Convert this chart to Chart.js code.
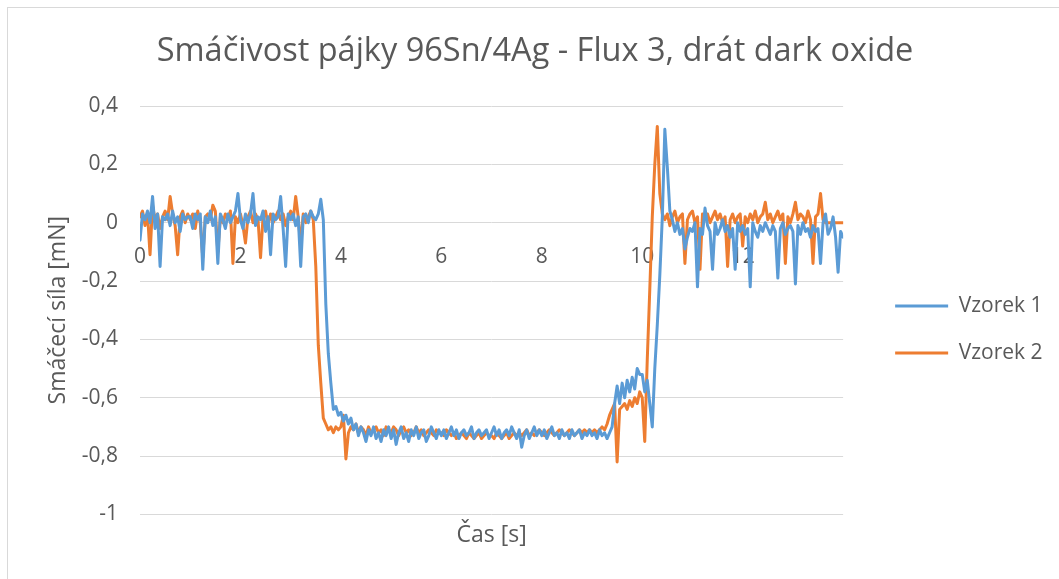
<!DOCTYPE html>
<html>
<head>
<meta charset="utf-8">
<script src="https://cdn.jsdelivr.net/npm/chart.js@4/dist/chart.umd.min.js"></script>
<style>
    body { margin: 0; background: #fff; overflow: hidden; }
    #frame { position: absolute; left: 7px; top: 7px; width: 1200px; height: 700px; border: 1px solid #d9d9d9; }
    #wetting { position: absolute; left: 0; top: 0; }
</style>
</head>
<body>
<div id="frame"></div>
<canvas id="wetting" width="1059" height="579"></canvas>
<script>
const chartTitle = 'Smáčivost pájky 96Sn/4Ag - Flux 3, drát dark oxide';
const xTitle = 'Čas [s]';
const yTitle = 'Smáčecí síla [mN]';
const seriesNames = ['Vzorek 1', 'Vzorek 2'];

// one sample every 0.05 s, from 0 s to 14 s (one row = one second)
const timeStep = 0.05;

const vzorek1 = [
    -0.06, 0.03, 0.01, 0.04, 0.00, 0.09, -0.02, 0.03, -0.15, 0.02, 0.01, 0.03, -0.01, 0.04, 0.00, 0.02, -0.03, 0.03, 0.01, 0.02,
    0.02, -0.02, 0.03, 0.01, 0.03, -0.16, 0.02, 0.00, 0.04, -0.01, 0.02, -0.14, 0.03, 0.01, -0.02, 0.03, 0.00, 0.02, 0.04, 0.10,
    0.01, -0.02, 0.03, 0.00, 0.03, 0.10, -0.01, 0.02, 0.01, 0.04, -0.03, 0.02, -0.11, 0.03, 0.01, 0.02, 0.09, -0.02, -0.15, 0.03,
    0.01, 0.03, -0.01, 0.02, -0.15, 0.02, 0.03, 0.00, 0.04, 0.02, 0.01, 0.03, 0.08, 0.01, -0.28, -0.45, -0.55, -0.64, -0.63, -0.66,
    -0.65, -0.68, -0.66, -0.69, -0.67, -0.71, -0.69, -0.73, -0.70, -0.72, -0.75, -0.71, -0.73, -0.70, -0.74, -0.72, -0.75, -0.71, -0.73, -0.70,
    -0.74, -0.71, -0.76, -0.72, -0.70, -0.74, -0.72, -0.75, -0.71, -0.73, -0.70, -0.74, -0.72, -0.71, -0.75, -0.73, -0.70, -0.72, -0.74, -0.71,
    -0.73, -0.71, -0.74, -0.72, -0.70, -0.73, -0.71, -0.74, -0.72, -0.71, -0.73, -0.72, -0.70, -0.74, -0.72, -0.71, -0.73, -0.72, -0.71, -0.74,
    -0.72, -0.70, -0.73, -0.71, -0.74, -0.72, -0.71, -0.73, -0.70, -0.72, -0.74, -0.71, -0.77, -0.73, -0.71, -0.74, -0.72, -0.70, -0.73, -0.71,
    -0.73, -0.71, -0.74, -0.72, -0.70, -0.73, -0.72, -0.74, -0.71, -0.73, -0.72, -0.74, -0.71, -0.73, -0.72, -0.71, -0.74, -0.72, -0.73, -0.71,
    -0.73, -0.72, -0.74, -0.71, -0.73, -0.72, -0.74, -0.72, -0.70, -0.62, -0.56, -0.62, -0.55, -0.60, -0.54, -0.58, -0.53, -0.57, -0.50, -0.52,
    -0.52, -0.58, -0.54, -0.62, -0.70, -0.50, -0.35, -0.18, 0.02, 0.32, 0.19, 0.04, 0.01, -0.03, 0.00, -0.04, -0.02, -0.09, -0.05, -0.02,
    -0.03, 0.00, -0.22, -0.02, -0.04, 0.05, -0.01, -0.03, -0.16, 0.00, -0.04, -0.02, 0.01, -0.03, -0.01, -0.05, -0.02, -0.16, 0.00, -0.03,
    -0.01, -0.04, -0.02, -0.22, 0.00, -0.03, -0.05, -0.01, -0.03, 0.00, -0.02, -0.04, -0.01, -0.03, -0.19, -0.02, 0.00, -0.04, -0.02, -0.01,
    -0.03, -0.21, -0.01, -0.04, 0.00, -0.03, -0.02, -0.05, -0.01, -0.03, -0.02, -0.14, 0.00, 0.03, -0.04, -0.02, 0.02, -0.05, -0.17, -0.03,
    -0.05
];

const vzorek2 = [
    0.02, 0.04, -0.01, 0.03, -0.11, 0.06, 0.01, 0.03, -0.02, 0.02, 0.04, 0.01, 0.09, 0.03, -0.01, -0.11, 0.02, 0.04, 0.00, 0.03,
    0.01, 0.03, -0.02, 0.04, 0.00, -0.12, 0.02, 0.03, 0.01, 0.06, 0.04, -0.10, 0.02, 0.00, 0.03, 0.01, 0.04, -0.14, 0.02, 0.00,
    0.03, -0.01, -0.07, 0.02, 0.04, 0.00, 0.03, 0.01, -0.12, 0.02, 0.04, -0.01, 0.03, 0.00, 0.02, 0.04, 0.01, 0.03, -0.01, 0.02,
    0.04, 0.01, 0.09, 0.02, -0.08, 0.03, 0.00, 0.02, 0.04, 0.01, -0.15, -0.42, -0.55, -0.67, -0.69, -0.71, -0.70, -0.72, -0.70, -0.71,
    -0.70, -0.66, -0.81, -0.72, -0.70, -0.71, -0.69, -0.72, -0.70, -0.71, -0.73, -0.70, -0.72, -0.71, -0.70, -0.72, -0.71, -0.73, -0.70, -0.71,
    -0.72, -0.70, -0.71, -0.73, -0.71, -0.70, -0.72, -0.71, -0.73, -0.72, -0.70, -0.72, -0.71, -0.73, -0.72, -0.71, -0.72, -0.73, -0.71, -0.72,
    -0.72, -0.73, -0.71, -0.72, -0.73, -0.72, -0.74, -0.73, -0.72, -0.73, -0.74, -0.72, -0.73, -0.74, -0.73, -0.72, -0.74, -0.73, -0.72, -0.73,
    -0.73, -0.74, -0.72, -0.73, -0.74, -0.73, -0.72, -0.74, -0.73, -0.72, -0.73, -0.72, -0.73, -0.72, -0.71, -0.73, -0.72, -0.73, -0.72, -0.71,
    -0.72, -0.73, -0.72, -0.71, -0.72, -0.73, -0.72, -0.71, -0.72, -0.73, -0.72, -0.71, -0.72, -0.73, -0.72, -0.71, -0.72, -0.71, -0.72, -0.71,
    -0.72, -0.71, -0.72, -0.71, -0.70, -0.71, -0.69, -0.66, -0.64, -0.62, -0.82, -0.64, -0.63, -0.62, -0.64, -0.61, -0.63, -0.60, -0.62, -0.58,
    -0.60, -0.75, -0.47, -0.23, 0.02, 0.20, 0.33, 0.10, 0.03, 0.01, 0.03, -0.01, 0.02, 0.04, 0.00, 0.02, 0.03, -0.14, 0.01, 0.03,
    0.04, 0.00, 0.02, -0.16, 0.03, 0.01, 0.03, 0.00, 0.02, 0.04, 0.01, 0.03, 0.00, 0.02, -0.15, 0.01, 0.03, 0.00, 0.02, 0.03,
    -0.08, 0.02, 0.00, 0.03, 0.01, 0.04, 0.00, 0.02, 0.03, 0.07, 0.01, 0.03, 0.00, 0.02, 0.04, 0.01, 0.03, -0.14, 0.02, 0.00,
    0.03, 0.07, 0.01, 0.03, 0.02, 0.00, 0.04, 0.01, -0.14, 0.02, 0.03, 0.10, 0.01, 0.00, 0.00, 0.00, 0.00, 0.00, 0.00, 0.00,
    0.00
];

const xMin = 0, xMax = 14, xStep = 2;
const yMin = -1, yMax = 0.4, yStep = 0.2;
const colors = ['#5b9bd5', '#ed7d31'];

const textColor = '#595959';
const gridColor = '#d9d9d9';
const fontName = "'Open Sans', 'Noto Sans', sans-serif";

function toPoints(values) {
    return values.map((v, i) => ({ x: i * timeStep, y: v }));
}

function formatNumber(v) {
    const r = Math.round(v * 10) / 10;
    return String(r === 0 ? 0 : r).replace('.', ',');
}

function drawChart() {
    const datasets = [vzorek1, vzorek2].map((values, i) => ({
        label: seriesNames[i],
        data: toPoints(values),
        borderColor: colors[i],
        backgroundColor: colors[i],
        borderWidth: 3,
        borderCapStyle: 'round',
        borderJoinStyle: 'round',
        pointRadius: 0,
        pointStyle: 'line',
        tension: 0
    }));

    return new Chart(document.getElementById('wetting'), {
        type: 'line',
        data: { datasets: datasets },
        options: {
            responsive: false,
            animation: false,
            devicePixelRatio: 1,
            layout: { padding: { left: 17.5, right: 6.5, top: 0, bottom: 0 } },
            plugins: {
                title: {
                    display: true,
                    text: chartTitle,
                    color: textColor,
                    font: { family: fontName, size: 32.5, weight: 'normal' },
                    padding: { top: 32, bottom: 35 }
                },
                legend: {
                    position: 'right',
                    title: {
                        // empty title only pushes the entries down
                        display: true,
                        text: '',
                        font: { size: 10 },
                        padding: { top: 0, bottom: 68 }
                    },
                    labels: {
                        color: textColor,
                        font: { family: fontName, size: 21 },
                        usePointStyle: true,
                        pointStyle: 'line',
                        pointStyleWidth: 53,
                        padding: 26
                    }
                },
                tooltip: { enabled: false }
            },
            scales: {
                x: {
                    type: 'linear',
                    position: { y: 0 },
                    min: xMin,
                    max: xMax,
                    grid: { display: false, drawTicks: false },
                    border: { display: false },
                    ticks: {
                        stepSize: xStep,
                        autoSkip: false,
                        maxRotation: 0,
                        padding: 22,
                        color: textColor,
                        font: { family: fontName, size: 21 },
                        callback: (v) => v === xMax ? '' : formatNumber(v)
                    }
                },
                xTitle: {
                    type: 'linear',
                    position: 'bottom',
                    min: xMin,
                    max: xMax,
                    grid: { display: false, drawTicks: false },
                    border: { display: false },
                    ticks: { display: false },
                    title: {
                        display: true,
                        text: xTitle,
                        color: textColor,
                        font: { family: fontName, size: 23 },
                        padding: { top: 7, bottom: 30 }
                    }
                },
                y: {
                    type: 'linear',
                    position: 'left',
                    min: yMin,
                    max: yMax,
                    grid: { color: gridColor, lineWidth: 1, drawTicks: false },
                    border: { display: false },
                    ticks: {
                        stepSize: yStep,
                        padding: 22,
                        color: textColor,
                        font: { family: fontName, size: 21 },
                        callback: (v) => formatNumber(v)
                    },
                    title: {
                        display: true,
                        text: yTitle,
                        color: textColor,
                        font: { family: fontName, size: 23 },
                        padding: { top: 27.5, bottom: 0 }
                    },
                    afterFit: (scale) => { scale.width = 122.5; }
                },
                // hidden axis, only keeps a gap between plot and legend
                gap: {
                    type: 'linear',
                    position: 'right',
                    display: false,
                    afterFit: (scale) => { scale.width = 26; }
                }
            }
        }
    });
}

// measure the legend text only once the font is really there
if (document.fonts && document.fonts.load) {
    Promise.all([
        document.fonts.load("21px 'Open Sans'"),
        document.fonts.load("23px 'Open Sans'"),
        document.fonts.load("32.5px 'Open Sans'")
    ]).then(drawChart, drawChart);
} else {
    drawChart();
}
</script>
</body>
</html>
